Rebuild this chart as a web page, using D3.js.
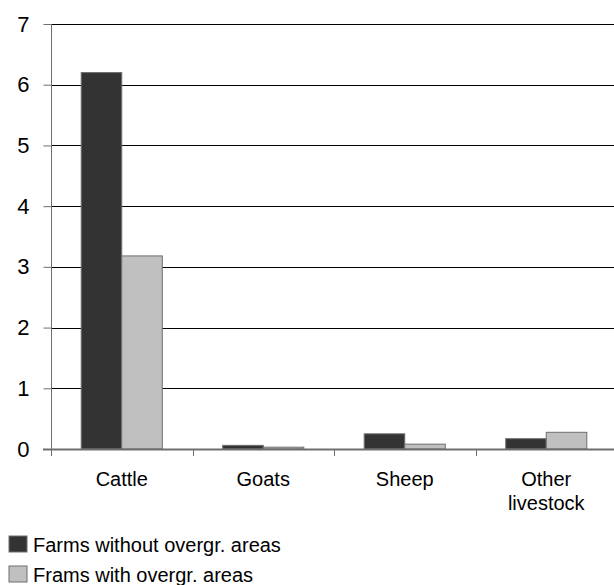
<!DOCTYPE html>
<html>
<head>
<meta charset="utf-8">
<script src="https://cdn.jsdelivr.net/npm/d3@7"></script>
<style>
  html, body { margin: 0; padding: 0; background: #fff; }
  svg { display: block; font-family: "Liberation Sans", Arial, sans-serif; }
</style>
</head>
<body>
<svg id="chart" width="614" height="585"></svg>
<script>
// Livestock categories and the two farm groups
const categories = ["Cattle", "Goats", "Sheep", "Other\nlivestock"];
const seriesNames = ["Farms without overgr. areas", "Frams with overgr. areas"];
const withoutOvergrazed = [6.2, 0.06, 0.25, 0.17];
const withOvergrazed = [3.18, 0.03, 0.08, 0.275];
const yTicks = [0, 1, 2, 3, 4, 5, 6, 7];
const colors = ["#333333", "#c0c0c0"];

const series = [withoutOvergrazed, withOvergrazed];

const svg = d3.select("#chart");
const margin = { left: 51, right: -3, top: 24, bottom: 136 };
const W = 614, H = 585;
const plotBottom = H - margin.bottom;

const x = d3.scaleBand()
  .domain(categories)
  .range([margin.left, W - margin.right])
  .paddingInner(0).paddingOuter(0);

const y = d3.scaleLinear().domain([0, 7]).range([plotBottom, margin.top]);

const groupWidth = x.bandwidth() * 0.573;
const xs = d3.scaleBand().domain(d3.range(series.length)).range([0, groupWidth]);

// horizontal gridlines
svg.append("g")
  .selectAll("line")
  .data(yTicks.filter(d => d > 0))
  .join("line")
  .attr("x1", margin.left).attr("x2", W)
  .attr("y1", d => Math.round(y(d)) + 0.5).attr("y2", d => Math.round(y(d)) + 0.5)
  .attr("stroke", "#000").attr("stroke-width", 1);

// bars
const groups = svg.append("g")
  .selectAll("g")
  .data(categories)
  .join("g")
  .attr("transform", c => `translate(${x(c) + (x.bandwidth() - groupWidth) / 2},0)`);

groups.selectAll("rect")
  .data((c, i) => series.map((s, k) => ({ k, v: s[i] })))
  .join("rect")
  .attr("x", d => xs(d.k))
  .attr("width", xs.bandwidth())
  .attr("y", d => y(d.v))
  .attr("height", d => plotBottom - y(d.v))
  .attr("fill", d => colors[d.k])
  .attr("stroke", "#6e6e6e")
  .attr("stroke-width", 1);

// y axis
const yAxis = svg.append("g")
  .attr("transform", `translate(${margin.left + 0.5},0)`)
  .call(d3.axisLeft(y).tickValues(yTicks).tickSize(8).tickPadding(14).tickFormat(d3.format("d")));
yAxis.select(".domain").attr("stroke", "#6e6e6e").attr("d", `M0,${y(7)}V${plotBottom}`);
yAxis.selectAll(".tick line").attr("stroke", "#6e6e6e");
yAxis.selectAll(".tick text").attr("font-size", 22).attr("fill", "#000")
  .attr("font-family", "Liberation Sans, Arial, sans-serif");

// x axis
const xAxis = svg.append("g")
  .attr("transform", `translate(0,${plotBottom + 0.5})`)
  .call(d3.axisBottom(x).tickSize(0).tickFormat(""));
xAxis.select(".domain").attr("stroke", "#6e6e6e").attr("stroke-width", 2)
  .attr("d", `M${margin.left - 8},0H${W}`);

// category boundary ticks
svg.append("g")
  .selectAll("line")
  .data(categories)
  .join("line")
  .attr("x1", c => Math.round(x(c)) + 0.5).attr("x2", c => Math.round(x(c)) + 0.5)
  .attr("y1", plotBottom).attr("y2", plotBottom + 7)
  .attr("stroke", "#6e6e6e");

// category labels
const labels = svg.append("g")
  .selectAll("text")
  .data(categories)
  .join("text")
  .attr("x", c => x(c) + x.bandwidth() / 2)
  .attr("y", plotBottom + 37)
  .attr("text-anchor", "middle")
  .attr("font-size", 20)
  .attr("fill", "#000");
labels.selectAll("tspan")
  .data(c => c.split("\n"))
  .join("tspan")
  .attr("x", function () { return d3.select(this.parentNode).attr("x"); })
  .attr("dy", (d, i) => i === 0 ? 0 : 24)
  .text(d => d);

// legend
const legend = svg.append("g")
  .selectAll("g")
  .data(seriesNames)
  .join("g")
  .attr("transform", (d, i) => `translate(9,${536 + i * 30})`);
legend.append("rect")
  .attr("width", 18).attr("height", 16)
  .attr("fill", (d, i) => colors[i])
  .attr("stroke", "#6e6e6e");
legend.append("text")
  .attr("x", 24).attr("y", 16)
  .attr("font-size", 20)
  .attr("fill", "#000")
  .text(d => d);
</script>
</body>
</html>
